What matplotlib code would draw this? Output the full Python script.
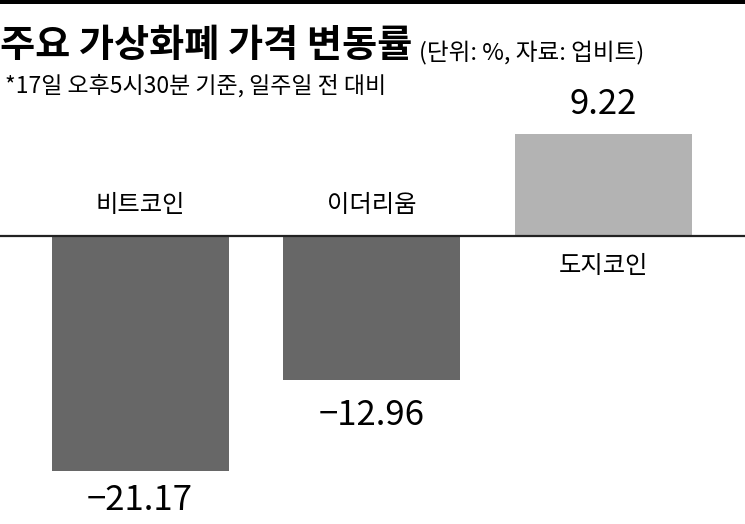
import matplotlib
matplotlib.use("Agg")
import matplotlib.pyplot as plt
from matplotlib.patches import Rectangle

# data
coins = ["비트코인", "이더리움", "도지코인"]
changes = [-21.17, -12.96, 9.22]
bar_colors = ["#676767", "#676767", "#b3b3b3"]

title = "주요 가상화폐 가격 변동률"
unit_note = "(단위: %, 자료: 업비트)"
sub_note = "*17일 오후5시30분 기준, 일주일 전 대비"

KR = ["Noto Sans CJK KR", "DejaVu Sans"]

W, H = 745, 524
fig = plt.figure(figsize=(W / 100, H / 100), dpi=100)
ax = fig.add_axes([0, 0, 1, 1])

x = list(range(len(coins)))
ax.bar(x, changes, width=0.765, color=bar_colors, zorder=2)
ax.axhline(0, color="#222222", lw=1.6, zorder=3)

ax.set_xlim(-0.605, 2.613)
ax.set_ylim(-25.95, 21.26)
ax.axis("off")

def fy(px):
    return 1 - px / H

# thick rule at the very top
fig.add_artist(Rectangle((0, fy(4)), 1, 4 / H, transform=fig.transFigure,
                         color="black", lw=0))

t = fig.text(0.0, fy(57), title, fontsize=27.5, fontweight="bold",
             family=KR, va="baseline", ha="left")
ax.annotate(unit_note, xy=(1, 0), xycoords=t, xytext=(7, 0),
            textcoords="offset pixels", fontsize=17, family=KR,
            va="bottom", ha="left")
fig.text(5 / W, fy(93), sub_note, fontsize=16.5, family=KR,
         va="baseline", ha="left")

for xi, name, v in zip(x, coins, changes):
    # value labels
    txt = f"{v:.2f}".replace("-", "\u2212")
    if v >= 0:
        ax.annotate(txt, (xi, v), xytext=(0, 12), textcoords="offset pixels",
                    ha="center", va="bottom", fontsize=25, fontweight="medium",
                    family=KR)
        ax.annotate(name, (xi, 0), xytext=(0, -17), textcoords="offset pixels",
                    ha="center", va="top", fontsize=17.5, family=KR)
    else:
        ax.annotate(txt, (xi, v), xytext=(0, -12 if v < -20 else -18),
                    textcoords="offset pixels", ha="center", va="top",
                    fontsize=25, fontweight="medium", family=KR)
        ax.annotate(name, (xi, 0), xytext=(0, 18), textcoords="offset pixels",
                    ha="center", va="bottom", fontsize=17.5, family=KR)

fig.savefig("out.png", dpi=100)
